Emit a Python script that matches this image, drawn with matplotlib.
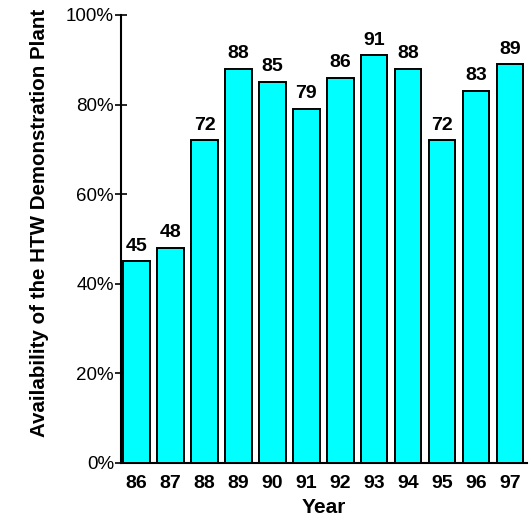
import matplotlib.pyplot as plt

plt.rcParams["font.family"] = ["Liberation Sans", "DejaVu Sans"]

years = ["86", "87", "88", "89", "90", "91", "92", "93", "94", "95", "96", "97"]
availability = [45, 48, 72, 88, 85, 79, 86, 91, 88, 72, 83, 89]

fig = plt.figure(figsize=(5.29, 5.19), dpi=100)
ax = fig.add_axes([0.2287, 0.1079, 0.7675, 0.8632])

pos = range(len(years))
ax.bar(pos, availability, width=0.78, color="#00ffff", edgecolor="black", linewidth=1.4, zorder=3)

for x, v in zip(pos, availability):
    ax.text(x, v + 1.5, f"{v}", ha="center", va="bottom", fontsize=14, fontweight="bold")

ax.set_xlim(-0.46, 11.5)
ax.set_ylim(0, 100)
ax.set_yticks([0, 20, 40, 60, 80, 100])
ax.set_yticklabels([f"{t}%" for t in [0, 20, 40, 60, 80, 100]], fontsize=13.5)
ax.set_xticks(list(pos))
ax.set_xticklabels(years, fontsize=14, fontweight="bold")
ax.tick_params(axis="y", direction="inout", length=8, width=1.2, pad=1)
ax.tick_params(axis="x", length=0, pad=9)

for s in ["top", "right"]:
    ax.spines[s].set_visible(False)
ax.spines["left"].set_linewidth(1.5)
ax.spines["bottom"].set_linewidth(1.5)

ax.set_xlabel("Year", fontsize=15, fontweight="bold", labelpad=4)
ax.set_ylabel("Availability of the HTW Demonstration Plant", fontsize=14.8, fontweight="bold")
ax.yaxis.set_label_coords(-0.178, 0.535)

fig.savefig("out.png", dpi=100)
